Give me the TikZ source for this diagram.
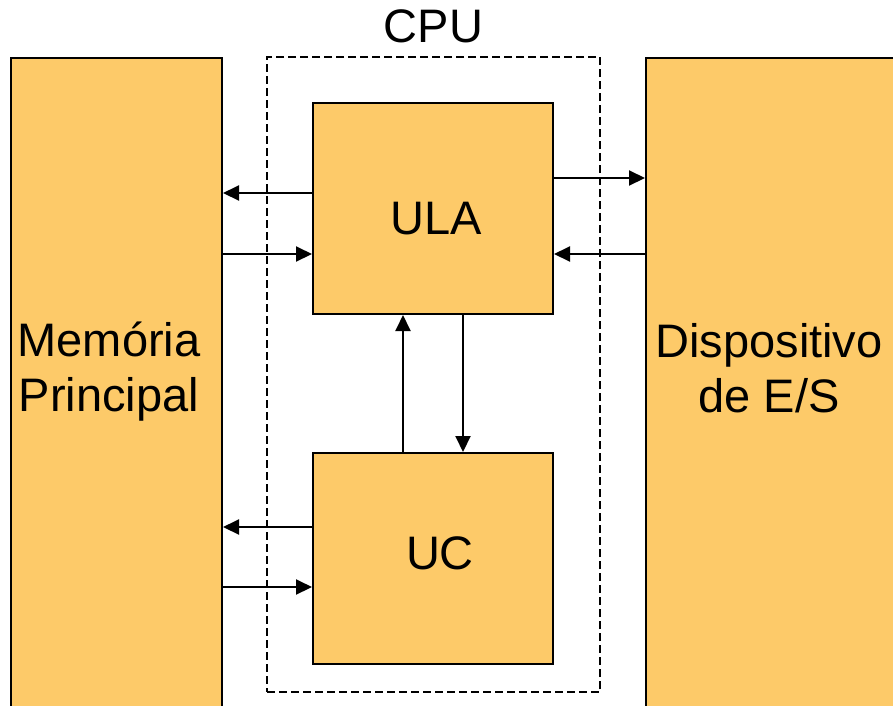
\documentclass[tikz,border=0pt]{standalone}
\usepackage{fontspec}
\setmainfont{Liberation Sans}
\usetikzlibrary{arrows.meta, positioning}
\definecolor{blockfill}{RGB}{253, 202, 105}

\begin{document}
\begin{tikzpicture}[
    x=1pt, y=-1pt,
    node distance=137pt,
    block/.style={rectangle, draw=black, fill=blockfill, line width=2pt, inner sep=0pt},
    unit/.style={block, minimum width=240pt, minimum height=211pt},
    side/.style={block, anchor=north west, minimum width=211pt, minimum height=700pt},
    cpubox/.style={rectangle, draw=black, line width=2.2pt, dash pattern=on 8pt off 4pt, minimum width=333pt, minimum height=635pt},
    txt/.style={font=\fontsize{47}{55}\selectfont, align=center, inner sep=0pt},
    arrow/.style={-{Triangle[length=16pt, width=15pt]}, line width=2pt}
    ]
    \useasboundingbox (0,0) rectangle (893,705);
    \clip (0,0) rectangle (893,705);

    % Memoria e E/S
    \node[side] (mem) at (10,57) {};
    \node[side, minimum width=300pt] (es) at (645,57) {};

    % CPU
    \node[cpubox] (cpu) at (433.5,374.5) {};
    \node[txt, anchor=south, above=13pt of cpu] (cputxt) {CPU};
    \node[unit] (ula) at (433,208.5) {};
    \node[unit, below=137pt of ula] (uc) {};

    % Textos
    \node[txt] (ulatxt) at (436,218.5) {ULA};
    \node[txt] (uctxt) at (440,553) {UC};
    \node[txt] (memtxt) at (109,372) {Memória\\Principal};
    \node[txt] (estxt) at (769,368) {Dispositivo\\de E/S};

    % Setas
    \draw[arrow] ([yshift=15.5pt]ula.west) -- ([yshift=15.5pt]ula.west -| mem.east);
    \draw[arrow] ([yshift=-45.5pt]ula.west -| mem.east) -- ([yshift=-45.5pt]ula.west);
    \draw[arrow] ([yshift=30.5pt]ula.east) -- ([yshift=30.5pt]ula.east -| es.west);
    \draw[arrow] ([yshift=-45.5pt]ula.east -| es.west) -- ([yshift=-45.5pt]ula.east);
    \draw[arrow] ([yshift=31.5pt]uc.west) -- ([yshift=31.5pt]uc.west -| mem.east);
    \draw[arrow] ([yshift=-28.5pt]uc.west -| mem.east) -- ([yshift=-28.5pt]uc.west);
    \draw[arrow] ([xshift=-30pt]uc.north) -- ([xshift=-30pt]ula.south);
    \draw[arrow] ([xshift=30pt]ula.south) -- ([xshift=30pt]uc.north);
\end{tikzpicture}
\end{document}
